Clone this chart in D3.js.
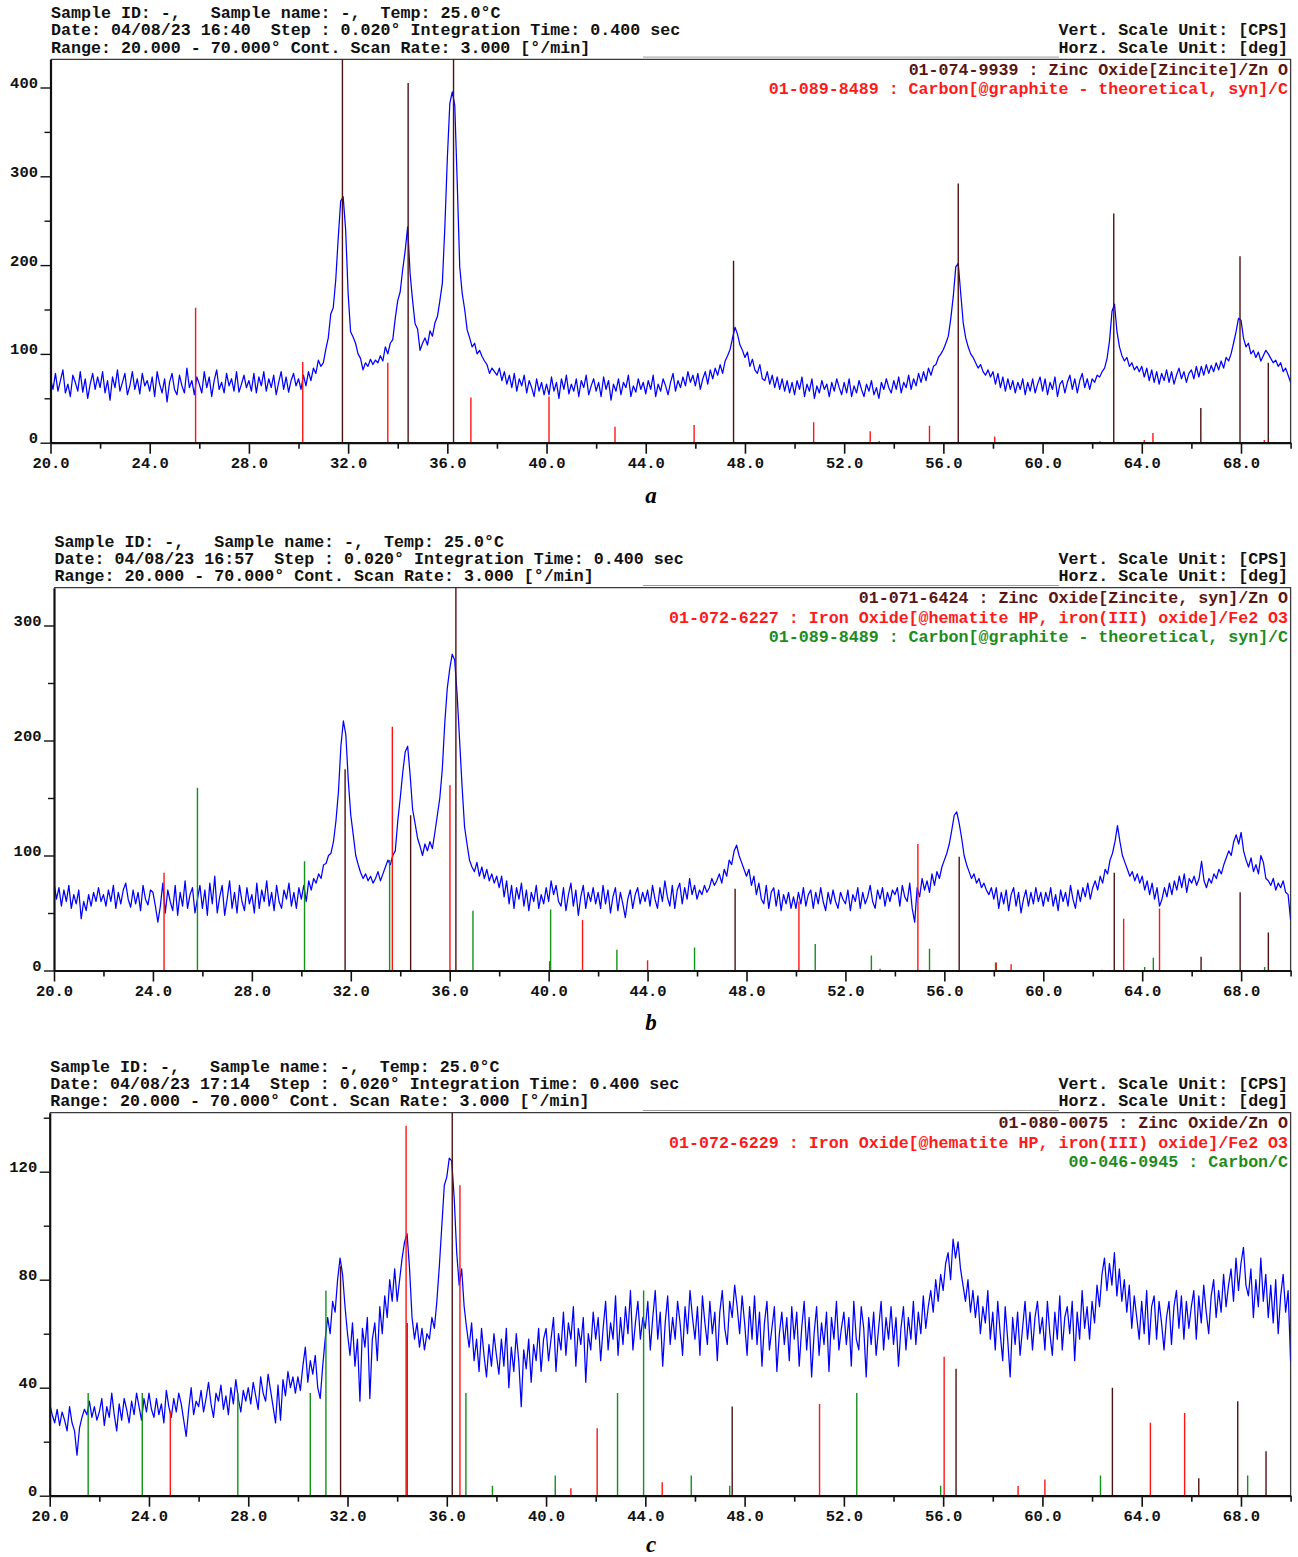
<!DOCTYPE html>
<html>
<head>
<meta charset="utf-8">
<script src="https://cdn.jsdelivr.net/npm/d3@7"></script>
<style>
  html, body { margin: 0; padding: 0; background: #fff; }
  svg { display: block; }
  text { font-family: "Liberation Mono", "DejaVu Sans Mono", monospace; font-weight: bold; white-space: pre; }
  .letter { font-family: "Liberation Serif", "DejaVu Serif", serif; font-style: italic; font-weight: bold; }
</style>
</head>
<body>
<svg id="chart" width="1298" height="1557"></svg>
<script>
// Scan grid: 2θ from 20° to 70°, one intensity value per 0.1°
const scanStart = 20;
const scanStep = 0.1;

// Pattern a — intensities [CPS]
const countsA = [
  72,60,78,58,70,82,56,66,52,76,68,58,80,57,72,50,66,78,60,74,
  62,80,56,70,48,74,62,82,58,68,78,54,64,80,60,72,55,78,64,70,
  58,74,52,80,66,56,72,46,68,78,60,54,76,64,56,84,62,70,54,74,
  66,56,80,62,74,52,70,82,60,68,56,78,64,72,58,80,57,66,76,62,
  70,58,78,56,74,64,80,58,72,62,76,54,68,80,60,74,57,70,78,64,
  72,60,76,64,80,70,84,78,93,86,90,105,118,145,152,183,230,272,277,240,
  168,125,119,112,100,95,82,90,86,94,88,93,90,98,92,108,100,112,116,140,
  160,170,195,216,243,190,160,134,128,104,112,118,110,126,120,135,142,160,180,243,
  320,382,395,380,292,198,168,150,127,118,108,112,100,104,97,92,88,78,84,80,
  76,84,70,80,66,76,62,78,58,72,64,76,56,70,62,52,72,58,68,54,
  66,54,74,58,68,50,72,60,76,55,66,58,72,52,70,62,76,54,64,72,
  58,68,52,74,60,70,48,66,58,72,54,68,62,76,52,64,57,72,60,68,
  55,70,60,76,52,66,58,72,64,54,68,78,58,70,62,74,64,80,68,76,
  64,78,60,72,80,66,82,72,84,76,88,78,92,98,105,118,130,122,110,104,
  96,102,86,94,82,78,88,72,70,80,66,76,62,74,60,72,58,70,56,68,
  54,70,60,74,52,66,58,72,50,64,56,70,60,66,52,68,58,72,62,54,
  68,56,72,52,64,56,70,60,52,66,58,70,54,62,50,68,60,72,62,56,
  70,60,74,56,68,62,76,60,72,64,78,68,80,70,84,76,86,88,96,100,
  105,112,120,140,165,198,202,168,135,118,108,100,96,90,84,88,80,76,82,74,
  80,66,78,62,74,58,72,60,70,56,68,60,72,54,68,58,72,56,66,74,
  58,72,54,68,60,74,52,66,70,56,68,76,60,72,56,70,78,62,72,60,
  72,68,76,74,80,84,95,115,148,156,125,108,98,92,96,86,90,82,86,80,
  86,74,84,70,82,68,80,66,78,70,82,68,80,66,76,84,72,80,68,78,
  82,72,86,74,86,76,88,78,87,80,90,82,92,84,96,92,100,112,125,140,
  138,118,108,112,100,104,96,102,92,98,104,100,95,90,93,86,90,80,84,76,
  68
];

// Pattern b — intensities [CPS]
const countsB = [
  76,62,72,56,70,60,74,54,66,58,70,45,60,52,66,56,68,60,72,60,
  66,56,70,60,74,54,68,58,70,76,62,55,70,58,68,52,74,62,57,70,
  68,56,42,56,76,50,70,60,52,74,48,68,56,78,54,66,72,50,62,74,
  54,70,48,76,58,82,50,64,74,48,62,78,54,68,50,74,60,52,72,58,
  66,50,76,54,70,60,78,56,68,52,74,60,54,70,62,76,56,68,54,72,
  62,74,60,78,70,80,76,84,80,92,93,100,102,112,130,155,195,217,205,165,
  135,118,100,92,85,80,84,78,82,76,80,86,78,84,90,96,92,100,104,130,
  150,172,190,195,170,140,128,115,108,100,110,104,112,106,120,135,150,175,215,245,
  262,275,270,240,200,160,125,110,96,90,86,94,82,90,80,88,78,84,76,82,
  72,82,64,78,58,74,54,72,62,76,56,70,52,68,60,74,54,66,58,72,
  60,78,66,74,60,56,72,52,66,76,56,70,48,64,74,54,68,60,72,58,
  68,54,74,58,70,50,64,72,52,68,58,46,62,70,54,66,72,58,68,60,
  70,56,74,62,54,72,60,78,64,56,74,54,70,76,58,72,62,80,66,74,
  62,70,66,74,68,72,80,74,78,84,76,88,82,96,92,104,109,100,94,88,
  82,88,74,82,66,76,62,58,74,54,68,72,56,70,52,66,58,68,54,64,
  54,68,58,72,56,66,70,54,68,58,72,60,52,68,58,70,60,54,68,62,
  58,70,52,66,60,72,54,68,58,64,74,60,54,70,62,72,56,68,60,70,
  66,72,56,74,64,60,76,54,42,72,64,80,70,78,68,84,74,86,80,90,
  96,102,110,122,135,138,128,115,100,92,86,80,84,76,80,72,76,70,66,72,
  62,72,54,68,58,70,52,66,72,56,68,50,62,70,56,68,58,72,60,68,
  56,68,60,72,56,66,52,70,60,68,56,74,62,54,70,60,72,64,76,62,
  72,78,70,82,76,88,84,96,102,112,126,112,100,94,88,82,86,78,84,76,
  82,70,78,66,76,62,72,56,62,72,64,76,66,78,70,82,72,84,68,80,
  76,82,74,80,95,78,72,80,76,84,80,88,84,92,98,104,100,112,118,110,
  120,104,96,90,98,86,92,84,100,94,80,78,74,80,70,76,72,78,68,66,
  44
];

// Pattern c — intensities [CPS]
const countsC = [
  34,30,27,32,26,31,28,24,33,27,24,15,25,29,32,30,35,29,33,28,
  31,36,26,33,29,38,30,24,34,28,36,32,27,35,30,38,33,28,36,31,
  38,32,29,36,30,34,27,39,33,29,36,31,38,34,28,22,32,40,30,35,
  33,39,31,36,42,34,29,38,35,41,32,37,30,40,34,43,36,31,39,35,
  40,34,42,37,32,44,38,35,45,39,33,27,41,28,43,37,46,40,44,38,
  44,39,48,55,42,50,45,52,40,36,48,58,66,60,72,68,80,88,82,70,
  60,52,64,48,58,35,62,55,66,36,58,64,50,70,60,74,66,80,72,84,
  72,80,88,94,97,84,66,58,64,55,62,54,60,58,66,62,72,85,100,115,
  118,125,124,110,90,78,84,70,62,55,64,50,58,46,62,52,44,56,48,60,
  52,45,58,48,62,40,55,46,60,50,33,54,47,58,42,56,50,62,46,58,
  62,50,58,66,46,60,54,68,52,64,58,70,48,62,56,66,42,60,54,68,
  58,66,50,62,72,54,64,58,74,52,66,56,70,60,76,54,64,72,58,66,
  62,72,54,66,76,58,68,48,64,74,56,66,58,72,64,52,70,60,76,66,
  58,70,52,74,64,56,72,60,68,50,68,76,62,56,72,66,78,70,60,74,
  64,52,70,58,74,56,68,48,64,72,54,62,70,46,60,68,56,66,50,70,
  58,68,48,62,72,54,66,44,60,70,52,64,56,68,46,66,58,72,54,62,
  68,56,66,48,72,58,54,70,62,44,66,56,68,52,62,72,54,66,58,70,
  56,66,48,62,70,54,66,58,72,56,68,60,74,62,70,76,68,80,72,82,
  76,86,90,80,95,88,94,84,78,72,80,68,76,66,74,60,70,64,76,58,
  68,54,72,60,50,70,58,44,66,56,68,52,62,72,58,68,54,66,72,60,
  66,54,72,60,52,68,58,74,54,66,70,60,72,50,68,58,76,62,70,58,
  72,64,78,70,82,88,76,86,78,90,74,84,72,80,68,78,62,74,66,58,
  72,60,76,56,70,74,58,72,64,54,66,72,56,70,76,62,74,58,72,62,
  70,76,58,74,64,78,68,60,74,80,66,76,68,82,70,78,84,72,88,76,
  86,92,78,74,84,66,80,70,88,72,82,66,78,64,80,60,74,82,68,76,
  50
];

// Reference stick patterns: [2θ, height in CPS]
const zincA = [[31.77,520],[34.42,405],[36.25,900],[47.54,205],[56.60,292],[62.87,258],[66.38,39],[67.96,210],[69.10,90]];
const graphiteA = [[25.85,152],[30.17,91],[33.60,90],[36.95,51],[40.10,52],[42.76,18],[45.95,20],[50.77,23],[53.05,13],[53.41,2],[55.44,19],[58.07,7],[62.32,1.5],[64.10,3],[64.45,11],[68.94,3]];

const zincB = [[31.77,175],[34.42,135],[36.25,345],[47.54,71],[56.60,99],[62.87,85],[66.38,12],[67.96,68],[69.10,33]];
const hematiteB = [[24.45,85],[33.68,212],[36.01,161],[40.04,8],[41.37,44],[44.00,9],[50.12,60],[54.93,110],[58.10,7],[58.70,5.5],[63.25,45],[64.70,54]];
const graphiteB = [[25.80,159],[30.13,95],[33.57,96],[36.94,52],[40.08,53],[42.76,18],[45.90,20],[50.78,23],[53.05,13],[53.40,1.5],[55.40,19],[58.07,7],[62.36,0.6],[64.10,3],[64.45,11],[68.95,3]];

const zincC = [[31.72,85],[34.40,64],[36.22,150],[47.50,33],[56.52,47],[62.82,40],[66.30,6.5],[67.87,35],[69.01,16.5]];
const hematiteC = [[24.86,31.5],[34.36,137],[36.53,115],[41.00,2.8],[42.06,25],[44.68,5],[51.02,34],[56.04,51.5],[59.02,3.6],[60.10,6],[64.35,27],[65.73,30.6]];
const carbonC = [[21.55,38],[23.73,38],[27.58,38],[30.50,38],[31.13,76],[36.77,38],[37.84,3.7],[40.37,7.5],[42.88,38],[43.93,76],[45.85,7.5],[47.40,3.7],[52.52,38],[55.90,3.7],[62.34,7.5],[68.27,7.5]];

// Axis tick values
const xMajorTicks = [20,24,28,32,36,40,44,48,52,56,60,64,68];
const xMinorTicks = [22,26,30,34,38,42,46,50,54,58,62,66,70];
const yTicksA = [0,100,200,300,400], yMinorA = [50,150,250,350];
const yTicksB = [0,100,200,300],     yMinorB = [50,150,250];
const yTicksC = [0,40,80,120],       yMinorC = [20,60,100,140];

// Header and legend texts
const headerLine1 = "Sample ID: -,   Sample name: -,  Temp: 25.0°C";
const dateLines = ["Date: 04/08/23 16:40  Step : 0.020° Integration Time: 0.400 sec",
                   "Date: 04/08/23 16:57  Step : 0.020° Integration Time: 0.400 sec",
                   "Date: 04/08/23 17:14  Step : 0.020° Integration Time: 0.400 sec"];
const headerLine3 = "Range: 20.000 - 70.000° Cont. Scan Rate: 3.000 [°/min]";
const unitLines = ["Vert. Scale Unit: [CPS]", "Horz. Scale Unit: [deg]"];

const legendA = ["01-074-9939 : Zinc Oxide[Zincite]/Zn O",
                 "01-089-8489 : Carbon[@graphite - theoretical, syn]/C"];
const legendB = ["01-071-6424 : Zinc Oxide[Zincite, syn]/Zn O",
                 "01-072-6227 : Iron Oxide[@hematite HP, iron(III) oxide]/Fe2 O3",
                 "01-089-8489 : Carbon[@graphite - theoretical, syn]/C"];
const legendC = ["01-080-0075 : Zinc Oxide/Zn O",
                 "01-072-6229 : Iron Oxide[@hematite HP, iron(III) oxide]/Fe2 O3",
                 "00-046-0945 : Carbon/C"];

const BROWN = "#4e1212", RED = "#ff1414", GREEN = "#13901a", BLUE = "#0000ff";
const BROWN_TEXT = "#5a1616", RED_TEXT = "#ff1a1a", GREEN_TEXT = "#1d8c1d";

const panels = [
  { letter: "a", counts: countsA, date: dateLines[0],
    frame: { left: 50.5, right: 1290.6, top: 59.3, bottom: 442.7 }, pxPerUnit: 0.888,
    yTicks: yTicksA, yMinor: yMinorA,
    phases: [ { sticks: zincA, color: BROWN }, { sticks: graphiteA, color: RED } ],
    legend: legendA, legendColors: [BROWN_TEXT, RED_TEXT], letterY: 503 },
  { letter: "b", counts: countsB, date: dateLines[1],
    frame: { left: 54, right: 1290.6, top: 587.7, bottom: 970.5 }, pxPerUnit: 1.15,
    yTicks: yTicksB, yMinor: yMinorB,
    phases: [ { sticks: zincB, color: BROWN }, { sticks: hematiteB, color: RED }, { sticks: graphiteB, color: GREEN } ],
    legend: legendB, legendColors: [BROWN_TEXT, RED_TEXT, GREEN_TEXT], letterY: 1030 },
  { letter: "c", counts: countsC, date: dateLines[2],
    frame: { left: 49.7, right: 1290.6, top: 1112.7, bottom: 1495.7 }, pxPerUnit: 2.7,
    yTicks: yTicksC, yMinor: yMinorC,
    phases: [ { sticks: zincC, color: BROWN }, { sticks: hematiteC, color: RED }, { sticks: carbonC, color: GREEN } ],
    legend: legendC, legendColors: [BROWN_TEXT, RED_TEXT, GREEN_TEXT], letterY: 1552 }
];

const svg = d3.select("#chart");
svg.append("rect").attr("width", 1298).attr("height", 1557).attr("fill", "#fff");

panels.forEach((p, pi) => {
  const f = p.frame;
  const yMax = (f.bottom - f.top) / p.pxPerUnit;
  const x = d3.scaleLinear().domain([20, 70]).range([f.left, f.right]);
  const y = d3.scaleLinear().domain([0, yMax]).range([f.bottom, f.top]);
  const g = svg.append("g");

  // header block
  const hx = f.left + 0.5;
  const hdr = g.append("g").attr("font-size", 16.65).attr("fill", "#111");
  hdr.append("text").attr("x", hx).attr("y", f.top - 41).text(headerLine1);
  hdr.append("text").attr("x", hx).attr("y", f.top - 24).text(p.date);
  hdr.append("text").attr("x", hx).attr("y", f.top - 6.5).text(headerLine3);
  unitLines.forEach((t, i) => {
    hdr.append("text").attr("x", f.right - 2.5).attr("y", f.top - 24 + i * 17.5)
      .attr("text-anchor", "end").text(t);
  });

  // frame: thin top and right edges, plus the short rule above the legend box
  g.append("line").attr("x1", 643).attr("x2", 1059).attr("y1", f.top - 2.2).attr("y2", f.top - 2.2)
    .attr("stroke", "#9a9a9a").attr("stroke-width", 1);
  g.append("path")
    .attr("d", `M${f.left},${f.top}H${f.right}V${f.bottom}`)
    .attr("fill", "none").attr("stroke", "#3a3a3a").attr("stroke-width", 1.3);

  const clipId = "clip" + pi;
  g.append("clipPath").attr("id", clipId).append("rect")
    .attr("x", f.left).attr("y", f.top).attr("width", f.right - f.left).attr("height", f.bottom - f.top);
  const plot = g.append("g").attr("clip-path", `url(#${clipId})`);

  // measured pattern
  const line = d3.line()
    .x((d, i) => x(scanStart + i * scanStep))
    .y(d => y(d));
  plot.append("path").datum(p.counts)
    .attr("d", line).attr("fill", "none")
    .attr("stroke", BLUE).attr("stroke-width", 1.25).attr("stroke-linejoin", "round");

  // reference sticks
  p.phases.forEach(ph => {
    plot.append("g").selectAll("line").data(ph.sticks).join("line")
      .attr("x1", d => x(d[0])).attr("x2", d => x(d[0]))
      .attr("y1", y(0)).attr("y2", d => y(d[1]))
      .attr("stroke", ph.color).attr("stroke-width", 1.4);
  });

  // legend
  p.legend.forEach((t, i) => {
    g.append("text").attr("x", f.right - 2.5).attr("y", f.top + 15.5 + i * 19.3)
      .attr("text-anchor", "end").attr("font-size", 16.65)
      .attr("fill", p.legendColors[i]).text(t);
  });

  // x axis
  const xAxis = g.append("g").attr("transform", `translate(0,${f.bottom})`)
    .call(d3.axisBottom(x).tickValues(xMajorTicks).tickFormat(d3.format(".1f"))
      .tickSizeInner(11).tickSizeOuter(0));
  g.append("g").attr("transform", `translate(0,${f.bottom})`)
    .call(d3.axisBottom(x).tickValues(xMinorTicks).tickFormat("").tickSizeInner(6).tickSizeOuter(0))
    .call(s => s.select(".domain").remove())
    .selectAll("line").attr("stroke", "#111").attr("stroke-width", 1.6);
  xAxis.select(".domain").attr("stroke", "#111").attr("stroke-width", 2.2);
  xAxis.selectAll(".tick line").attr("stroke", "#111").attr("stroke-width", 1.6);
  xAxis.selectAll("text").attr("y", 25.6).attr("dy", 0)
    .attr("font-size", 15.5).attr("fill", "#111")
    .attr("font-family", "'Liberation Mono', monospace").attr("font-weight", "bold");

  // y axis
  const yAxis = g.append("g").attr("transform", `translate(${f.left},0)`)
    .call(d3.axisLeft(y).tickValues(p.yTicks).tickFormat(d3.format("d"))
      .tickSizeInner(10).tickSizeOuter(0).tickPadding(2.5));
  g.append("g").attr("transform", `translate(${f.left},0)`)
    .call(d3.axisLeft(y).tickValues(p.yMinor).tickFormat("").tickSizeInner(6).tickSizeOuter(0))
    .call(s => s.select(".domain").remove())
    .selectAll("line").attr("stroke", "#111").attr("stroke-width", 1.4);
  yAxis.select(".domain").attr("stroke", "#111").attr("stroke-width", 2.2);
  yAxis.selectAll(".tick line").attr("stroke", "#111").attr("stroke-width", 1.4);
  yAxis.selectAll("text").attr("dy", 0)
    .attr("font-size", 15.5).attr("fill", "#111")
    .attr("font-family", "'Liberation Mono', monospace").attr("font-weight", "bold");

  // panel letter
  svg.append("text").attr("class", "letter").attr("x", 651).attr("y", p.letterY)
    .attr("text-anchor", "middle").attr("font-size", 23).attr("fill", "#000").text(p.letter);
});
</script>
</body>
</html>
